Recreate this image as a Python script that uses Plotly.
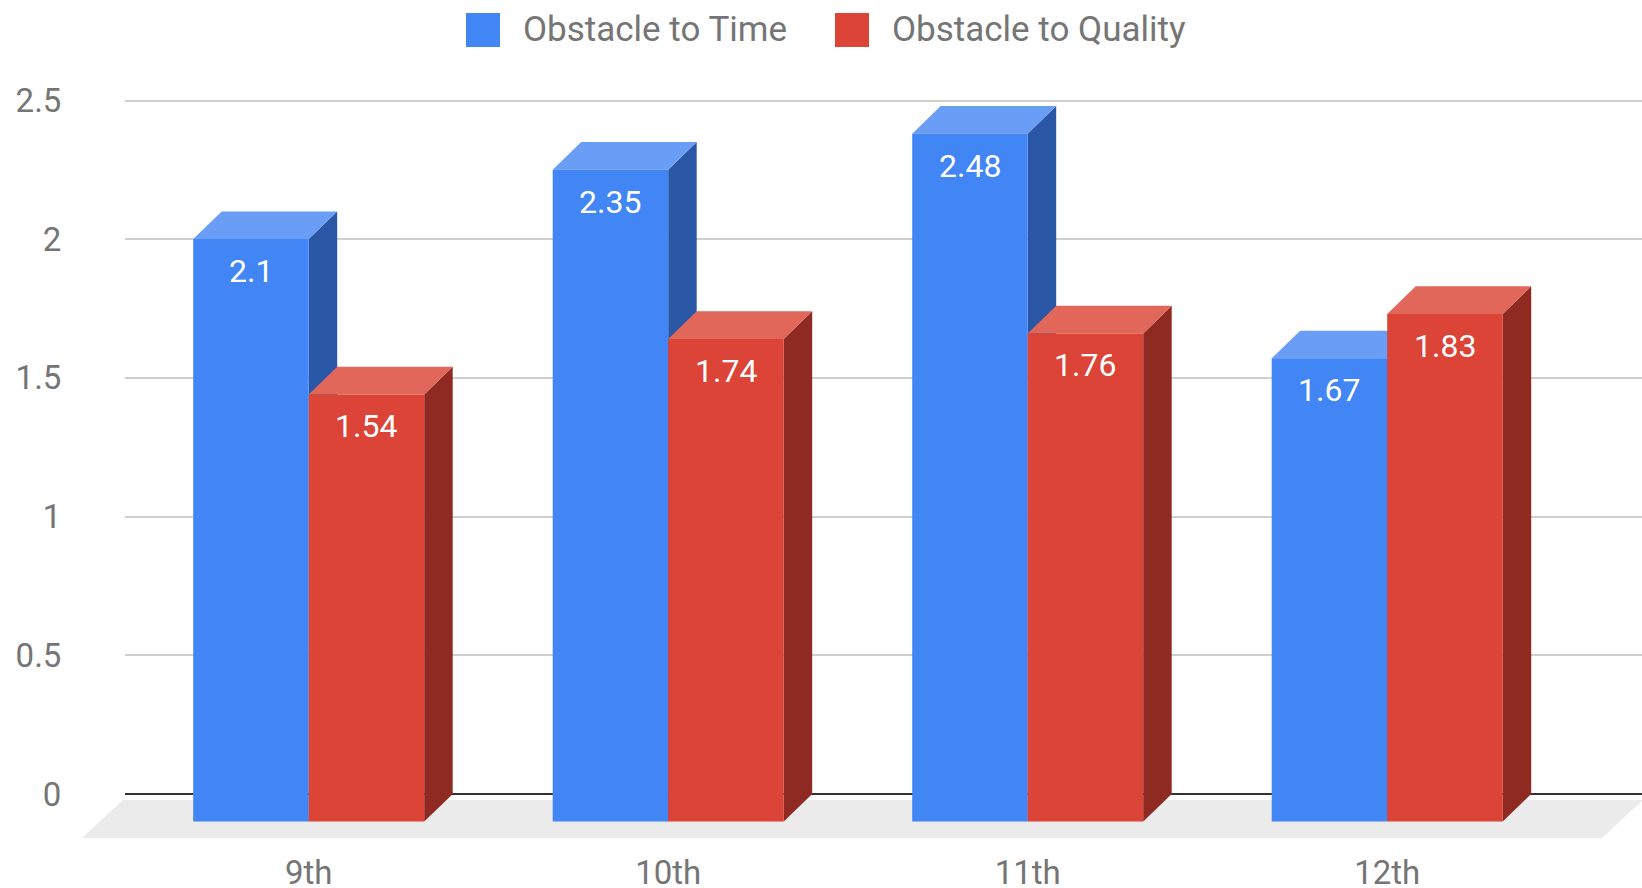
import plotly.graph_objects as go

# ---- data ----
categories = ["9th", "10th", "11th", "12th"]
series_names = ["Obstacle to Time", "Obstacle to Quality"]
time_values = [2.1, 2.35, 2.48, 1.67]
quality_values = [1.54, 1.74, 1.76, 1.83]
y_ticks = [0, 0.5, 1, 1.5, 2, 2.5]

# ---- styling ----
FONT = "Roboto"
TEXT_GREY = "#757575"
FRONT = ["#4285F4", "#DB4437"]
TOP = ["#6A9EF6", "#E1675B"]
SIDE = ["#2A56A6", "#8E2A22"]
FLOOR = "#EBEBEB"

# ---- page geometry (pixels) ----
W, H = 1642, 888
MT, MB = 90, 38
ZERO_PX = 794.0          # baseline of the back wall
UNIT_PX = 277.4          # pixels per value unit
GROUP0_PX = 308.7        # centre of the first category group (front plane)
STEP_PX = 359.5          # distance between category groups
BAR_PX = 115.5           # width of one bar face
DEPTH_X_PX, DEPTH_Y_PX = 28.5, 27.6
GRID_LEFT_PX = 125

y_min = -(H - MB - ZERO_PX) / UNIT_PX
y_max = (ZERO_PX - MT) / UNIT_PX
x_min = -GROUP0_PX / STEP_PX
x_max = (W - GROUP0_PX) / STEP_PX

bw = BAR_PX / STEP_PX
ddx = DEPTH_X_PX / STEP_PX
ddy = DEPTH_Y_PX / UNIT_PX

fig = go.Figure()

# placeholder so the back-wall subplot (gridlines + value axis) is created
fig.add_trace(go.Scatter(x=[], y=[], xaxis="x", yaxis="y", showlegend=False))

# floor slab under the bars
fl_top = -6 / UNIT_PX
fl_bot = -44 / UNIT_PX
fl_lt = (123 - GROUP0_PX) / STEP_PX
fl_slant = 41 / STEP_PX
fl_rb = (1602 - GROUP0_PX) / STEP_PX
fig.add_trace(go.Scatter(
    x=[fl_lt, fl_rb + fl_slant, fl_rb, fl_lt - fl_slant, fl_lt],
    y=[fl_top, fl_top, fl_bot, fl_bot, fl_top],
    xaxis="x2", yaxis="y2", mode="lines", fill="toself",
    fillcolor=FLOOR, line=dict(width=0), hoverinfo="skip", showlegend=False))


def faces(values, s):
    """Polygons of the side, top and front faces of one series."""
    side_x, side_y, top_x, top_y, fr_x, fr_y = [], [], [], [], [], []
    for i, v in enumerate(values):
        x0 = i - bw if s == 0 else i
        x1 = x0 + bw
        side_x += [x1, x1 + ddx, x1 + ddx, x1, x1, None]
        side_y += [-ddy, 0, v, v - ddy, -ddy, None]
        top_x += [x0, x1, x1 + ddx, x0 + ddx, x0, None]
        top_y += [v - ddy, v - ddy, v, v, v - ddy, None]
        fr_x += [x0, x1, x1, x0, x0, None]
        fr_y += [-ddy, -ddy, v - ddy, v - ddy, -ddy, None]
    return (side_x, side_y), (top_x, top_y), (fr_x, fr_y)


for s, values in enumerate([time_values, quality_values]):
    side, top, front = faces(values, s)
    for (px, py), col in [(side, SIDE[s]), (top, TOP[s]), (front, FRONT[s])]:
        fig.add_trace(go.Scatter(
            x=px, y=py, xaxis="x2", yaxis="y2", mode="lines", fill="toself",
            fillcolor=col, line=dict(width=0), hoverinfo="skip",
            showlegend=False, name=series_names[s]))
    for i, v in enumerate(values):
        xc = i - bw / 2 if s == 0 else i + bw / 2
        fig.add_annotation(
            x=xc, y=v - ddy, xref="x2", yref="y2", text=f"{v:g}",
            showarrow=False, yanchor="middle", yshift=-32,
            font=dict(family=FONT, size=32, color="white"))

# legend drawn as swatches + labels above the plot
def py_paper(px):
    return (H - MB - px) / (H - MT - MB)

legend_items = [(466, 521), (835, 890)]
for s, (sw_px, tx_px) in enumerate(legend_items):
    fig.add_shape(type="rect", xref="paper", yref="paper",
                  x0=sw_px / W, x1=(sw_px + 34) / W,
                  y0=py_paper(47), y1=py_paper(13),
                  fillcolor=FRONT[s], line=dict(width=0))
    fig.add_annotation(x=tx_px / W, y=py_paper(29), xref="paper", yref="paper",
                       text=series_names[s], showarrow=False,
                       xanchor="left", yanchor="middle",
                       font=dict(family=FONT, size=35, color=TEXT_GREY))

fig.update_layout(
    width=W, height=H,
    margin=dict(l=0, r=0, t=MT, b=MB, pad=0),
    paper_bgcolor="white", plot_bgcolor="rgba(0,0,0,0)",
    showlegend=False,
    font=dict(family=FONT, color=TEXT_GREY),
    xaxis=dict(domain=[GRID_LEFT_PX / W, 1], range=[0, 1], visible=False,
               anchor="y", automargin=False),
    yaxis=dict(domain=[0, 1], range=[y_min, y_max], anchor="x",
               automargin=False,
               tickvals=y_ticks, ticktext=[f"{t:g}" for t in y_ticks],
               showgrid=True, gridcolor="#CFCFCF", gridwidth=2,
               zeroline=True, zerolinecolor="#333333", zerolinewidth=2,
               showline=False, ticks="outside", ticklen=56,
               tickcolor="rgba(0,0,0,0)",
               tickfont=dict(family=FONT, size=33, color=TEXT_GREY)),
    xaxis2=dict(domain=[0, 1], range=[x_min, x_max], anchor="y2",
                automargin=False,
                tickvals=list(range(len(categories))), ticktext=categories,
                showgrid=False, zeroline=False, showline=False,
                ticks="",
                tickfont=dict(family=FONT, size=33, color=TEXT_GREY)),
    yaxis2=dict(domain=[0, 1], range=[y_min, y_max], anchor="x2",
                visible=False, automargin=False),
)

fig.write_html("out.html")
